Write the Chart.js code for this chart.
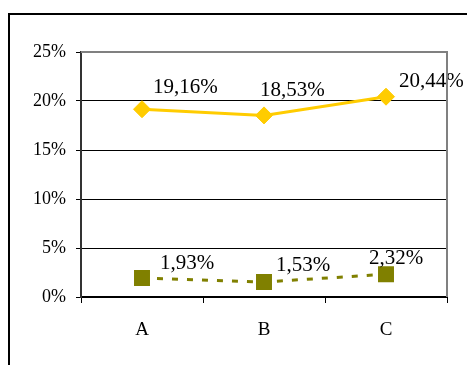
<!DOCTYPE html>
<html>
<head>
<meta charset="utf-8">
<script src="https://cdn.jsdelivr.net/npm/chart.js@4/dist/chart.umd.min.js"></script>
<style>
  html, body { margin: 0; padding: 0; background: #fff; }
  #wrap { width: 467px; height: 365px; position: relative; }
</style>
</head>
<body>
<div id="wrap"><canvas id="c" width="467" height="365"></canvas></div>
<script>
// Categories and the two series (percent values)
const categories = ['A', 'B', 'C'];
const upperSeries = [19.16, 18.53, 20.44];
const lowerSeries = [1.93, 1.53, 2.32];
const yTicks = [0, 5, 10, 15, 20, 25];

const serif = "'Liberation Serif', 'Times New Roman', serif";
const fmt = v => v.toFixed(2).replace('.', ',') + '%';

// Value labels next to each point, with per-point nudges
const valueLabels = {
  id: 'valueLabels',
  afterDatasetsDraw(chart, args, opts) {
    const ctx = chart.ctx;
    ctx.save();
    ctx.font = '21px ' + serif;
    ctx.fillStyle = '#000';
    ctx.textAlign = 'left';
    ctx.textBaseline = 'middle';
    chart.data.datasets.forEach((ds, di) => {
      const meta = chart.getDatasetMeta(di);
      meta.data.forEach((pt, i) => {
        const off = opts.offsets[di][i];
        ctx.fillText(fmt(ds.data[i]), pt.x + off[0], pt.y + off[1]);
      });
    });
    ctx.restore();
  }
};

// Outer frame and the grey top/right edges of the plot
const frame = {
  id: 'frame',
  beforeDraw(chart) {
    const ctx = chart.ctx;
    ctx.save();
    ctx.fillStyle = '#fff';
    ctx.fillRect(0, 0, chart.width, chart.height);
    ctx.strokeStyle = '#000';
    ctx.lineWidth = 2;
    ctx.strokeRect(9, 14, chart.width + 20, chart.height + 20);
    ctx.restore();
  },
  afterDraw(chart) {
    const a = chart.chartArea;
    const ctx = chart.ctx;
    ctx.save();
    ctx.strokeStyle = '#808080';
    ctx.lineWidth = 2;
    ctx.beginPath();
    ctx.moveTo(a.left, a.top);
    ctx.lineTo(a.right, a.top);
    ctx.lineTo(a.right, a.bottom);
    ctx.stroke();
    ctx.restore();
  }
};

new Chart(document.getElementById('c'), {
  type: 'line',
  data: {
    labels: categories,
    datasets: [
      {
        data: upperSeries,
        borderColor: '#FFCC00',
        backgroundColor: '#FFCC00',
        borderWidth: 3,
        pointStyle: 'rectRot',
        pointRadius: 8.5,
        pointBorderWidth: 1,
        tension: 0
      },
      {
        data: lowerSeries,
        borderColor: '#808000',
        backgroundColor: '#808000',
        borderWidth: 3,
        borderDash: [6, 9],
        pointStyle: 'rect',
        pointRadius: 11.3,
        pointBorderWidth: 0,
        tension: 0
      }
    ]
  },
  options: {
    responsive: false,
    animation: false,
    devicePixelRatio: 1,
    layout: { padding: { left: 0, top: 52, right: 20, bottom: 0 } },
    plugins: {
      legend: { display: false },
      tooltip: { enabled: false },
      valueLabels: {
        offsets: [
          [[11, -22], [-4, -25], [13, -15]],
          [[18, -15], [12, -17], [-17, -16]]
        ]
      }
    },
    scales: {
      x: {
        type: 'category',
        offset: true,
        grid: {
          offset: true,
          drawOnChartArea: false,
          color: '#000',
          tickLength: 6,
          lineWidth: 1
        },
        border: { color: '#000', width: 2 },
        ticks: {
          color: '#000',
          font: { family: serif, size: 19 },
          padding: 16,
          maxRotation: 0
        },
        afterFit(scale) { scale.height = 68; }
      },
      y: {
        min: 0,
        max: 25,
        afterBuildTicks(scale) { scale.ticks = yTicks.map(v => ({ value: v })); },
        grid: {
          color: '#000',
          lineWidth: 1,
          tickLength: 5
        },
        border: { color: '#333', width: 2 },
        ticks: {
          color: '#000',
          font: { family: serif, size: 18 },
          padding: 10,
          callback: v => v + '%'
        },
        afterFit(scale) { scale.width = 81; }
      }
    }
  },
  plugins: [frame, valueLabels]
});
</script>
</body>
</html>
